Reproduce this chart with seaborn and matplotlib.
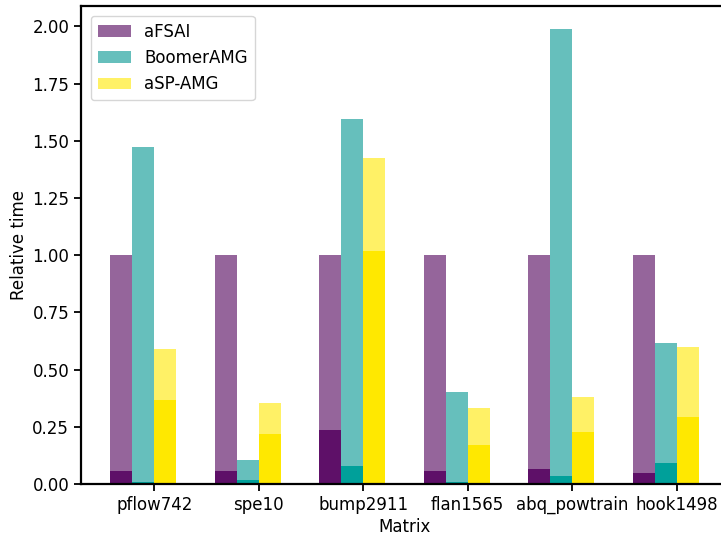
import numpy as np
import matplotlib
matplotlib.use("Agg")
import matplotlib.pyplot as plt
import seaborn as sns

# Data
matrices = ["pflow742", "spe10", "bump2911", "flan1565", "abq_powtrain", "hook1498"]
methods = ["aFSAI", "BoomerAMG", "aSP-AMG"]

afsai_total = [1.0, 1.0, 1.0, 1.0, 1.0, 1.0]
afsai_part = [0.057, 0.055, 0.237, 0.055, 0.065, 0.048]
boomer_total = [1.475, 0.105, 1.595, 0.40, 1.99, 0.617]
boomer_part = [0.010, 0.018, 0.079, 0.008, 0.035, 0.090]
asp_total = [0.590, 0.355, 1.423, 0.333, 0.382, 0.600]
asp_part = [0.368, 0.219, 1.020, 0.171, 0.228, 0.294]

light_colors = ["#95659b", "#66bfbc", "#fff166"]
dark_colors = ["#5e1068", "#00a09a", "#ffe800"]

sns.set_style("ticks")
plt.rcParams["font.family"] = ["DejaVu Sans"]
plt.rcParams["font.size"] = 12
plt.rcParams["text.color"] = "black"
plt.rcParams["axes.labelcolor"] = "black"

fig = plt.figure(figsize=(7.21, 5.35), dpi=100)
ax = fig.add_axes([81 / 721, 51 / 535, 647 / 721, 478 / 535])

x = np.arange(len(matrices))
w = 0.21
totals = [afsai_total, boomer_total, asp_total]
parts = [afsai_part, boomer_part, asp_part]

for i, name in enumerate(methods):
    pos = x + (i - 2) * w
    ax.bar(pos, totals[i], width=w, align="edge", color=light_colors[i],
           linewidth=0, label=name)
    ax.bar(pos, parts[i], width=w, align="edge", color=dark_colors[i], linewidth=0)

ax.set_xticks(x)
ax.set_xticklabels(matrices)
ax.set_yticks(np.arange(0, 2.01, 0.25))
ax.set_xlabel("Matrix", labelpad=3)
ax.set_ylabel("Relative time", labelpad=3)
for s in ax.spines.values():
    s.set_color("black")
    s.set_linewidth(1.6)
ax.tick_params(colors="black", labelcolor="black", direction="out", length=5, width=1.3)
ax.legend(loc="upper left", frameon=True, borderaxespad=0.6)

fig.savefig("out.png", dpi=100)
